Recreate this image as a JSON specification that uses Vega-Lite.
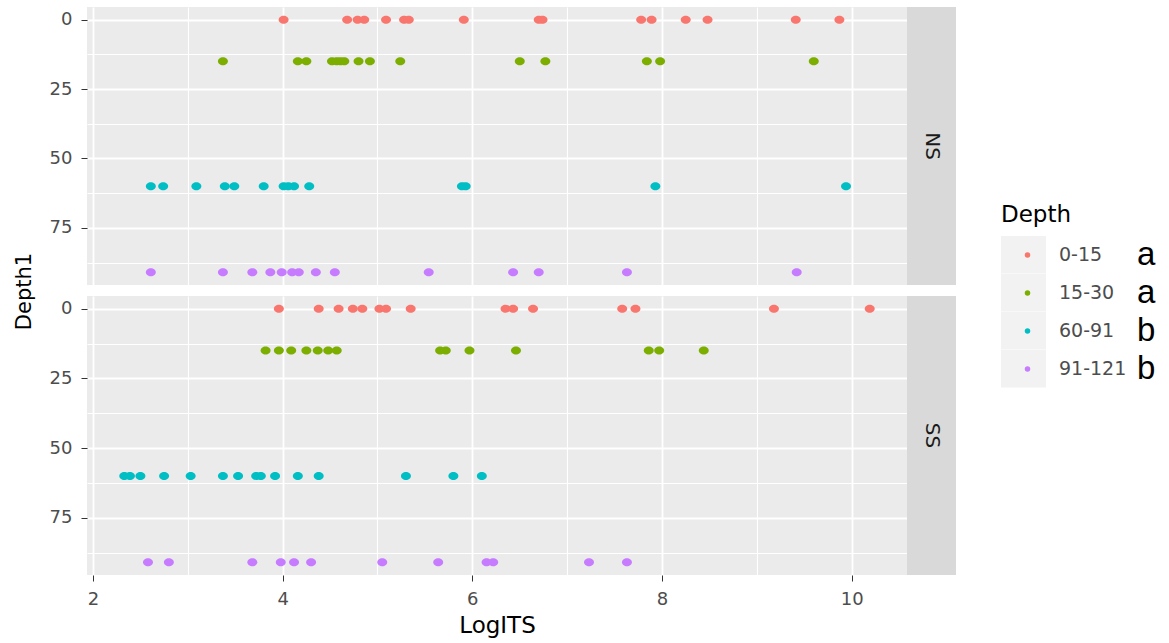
{
  "$schema": "https://vega.github.io/schema/vega-lite/v6.json",
  "background": "white",
  "padding": {"left": 13, "top": 7, "right": 5, "bottom": 5},
  "bounds": "flush",
  "columns": 2,
  "spacing": {"row": 11, "column": 0},
  "config": {
    "font": "DejaVu Sans",
    "view": {"stroke": null},
    "axis": {
      "domain": false,
      "gridColor": "#FFFFFF",
      "tickColor": "#333333",
      "tickSize": 6,
      "labelColor": "#4D4D4D",
      "labelFont": "DejaVu Sans",
      "labelFontSize": 18,
      "titleFont": "DejaVu Sans",
      "titleFontWeight": "normal",
      "titleColor": "#000000"
    },
    "legend": {
      "symbolBaseFillColor": "#F2F2F2",
      "symbolBaseStrokeColor": "transparent"
    }
  },
  "datasets": {
    "its": [
      {"Site": "NS", "Depth": "0-15", "Depth1": 0, "LogITS": 4.01},
      {"Site": "NS", "Depth": "0-15", "Depth1": 0, "LogITS": 4.68},
      {"Site": "NS", "Depth": "0-15", "Depth1": 0, "LogITS": 4.79},
      {"Site": "NS", "Depth": "0-15", "Depth1": 0, "LogITS": 4.86},
      {"Site": "NS", "Depth": "0-15", "Depth1": 0, "LogITS": 5.09},
      {"Site": "NS", "Depth": "0-15", "Depth1": 0, "LogITS": 5.28},
      {"Site": "NS", "Depth": "0-15", "Depth1": 0, "LogITS": 5.33},
      {"Site": "NS", "Depth": "0-15", "Depth1": 0, "LogITS": 5.91},
      {"Site": "NS", "Depth": "0-15", "Depth1": 0, "LogITS": 6.70},
      {"Site": "NS", "Depth": "0-15", "Depth1": 0, "LogITS": 6.74},
      {"Site": "NS", "Depth": "0-15", "Depth1": 0, "LogITS": 7.78},
      {"Site": "NS", "Depth": "0-15", "Depth1": 0, "LogITS": 7.89},
      {"Site": "NS", "Depth": "0-15", "Depth1": 0, "LogITS": 8.25},
      {"Site": "NS", "Depth": "0-15", "Depth1": 0, "LogITS": 8.48},
      {"Site": "NS", "Depth": "0-15", "Depth1": 0, "LogITS": 9.41},
      {"Site": "NS", "Depth": "0-15", "Depth1": 0, "LogITS": 9.87},
      {"Site": "NS", "Depth": "15-30", "Depth1": 15, "LogITS": 3.37},
      {"Site": "NS", "Depth": "15-30", "Depth1": 15, "LogITS": 4.16},
      {"Site": "NS", "Depth": "15-30", "Depth1": 15, "LogITS": 4.25},
      {"Site": "NS", "Depth": "15-30", "Depth1": 15, "LogITS": 4.52},
      {"Site": "NS", "Depth": "15-30", "Depth1": 15, "LogITS": 4.57},
      {"Site": "NS", "Depth": "15-30", "Depth1": 15, "LogITS": 4.61},
      {"Site": "NS", "Depth": "15-30", "Depth1": 15, "LogITS": 4.65},
      {"Site": "NS", "Depth": "15-30", "Depth1": 15, "LogITS": 4.80},
      {"Site": "NS", "Depth": "15-30", "Depth1": 15, "LogITS": 4.92},
      {"Site": "NS", "Depth": "15-30", "Depth1": 15, "LogITS": 5.24},
      {"Site": "NS", "Depth": "15-30", "Depth1": 15, "LogITS": 6.50},
      {"Site": "NS", "Depth": "15-30", "Depth1": 15, "LogITS": 6.77},
      {"Site": "NS", "Depth": "15-30", "Depth1": 15, "LogITS": 7.84},
      {"Site": "NS", "Depth": "15-30", "Depth1": 15, "LogITS": 7.98},
      {"Site": "NS", "Depth": "15-30", "Depth1": 15, "LogITS": 9.60},
      {"Site": "NS", "Depth": "60-91", "Depth1": 60, "LogITS": 2.61},
      {"Site": "NS", "Depth": "60-91", "Depth1": 60, "LogITS": 2.74},
      {"Site": "NS", "Depth": "60-91", "Depth1": 60, "LogITS": 3.09},
      {"Site": "NS", "Depth": "60-91", "Depth1": 60, "LogITS": 3.39},
      {"Site": "NS", "Depth": "60-91", "Depth1": 60, "LogITS": 3.49},
      {"Site": "NS", "Depth": "60-91", "Depth1": 60, "LogITS": 3.80},
      {"Site": "NS", "Depth": "60-91", "Depth1": 60, "LogITS": 4.01},
      {"Site": "NS", "Depth": "60-91", "Depth1": 60, "LogITS": 4.06},
      {"Site": "NS", "Depth": "60-91", "Depth1": 60, "LogITS": 4.12},
      {"Site": "NS", "Depth": "60-91", "Depth1": 60, "LogITS": 4.28},
      {"Site": "NS", "Depth": "60-91", "Depth1": 60, "LogITS": 5.89},
      {"Site": "NS", "Depth": "60-91", "Depth1": 60, "LogITS": 5.93},
      {"Site": "NS", "Depth": "60-91", "Depth1": 60, "LogITS": 7.93},
      {"Site": "NS", "Depth": "60-91", "Depth1": 60, "LogITS": 9.94},
      {"Site": "NS", "Depth": "91-121", "Depth1": 91, "LogITS": 2.61},
      {"Site": "NS", "Depth": "91-121", "Depth1": 91, "LogITS": 3.37},
      {"Site": "NS", "Depth": "91-121", "Depth1": 91, "LogITS": 3.68},
      {"Site": "NS", "Depth": "91-121", "Depth1": 91, "LogITS": 3.87},
      {"Site": "NS", "Depth": "91-121", "Depth1": 91, "LogITS": 3.99},
      {"Site": "NS", "Depth": "91-121", "Depth1": 91, "LogITS": 4.10},
      {"Site": "NS", "Depth": "91-121", "Depth1": 91, "LogITS": 4.17},
      {"Site": "NS", "Depth": "91-121", "Depth1": 91, "LogITS": 4.35},
      {"Site": "NS", "Depth": "91-121", "Depth1": 91, "LogITS": 4.55},
      {"Site": "NS", "Depth": "91-121", "Depth1": 91, "LogITS": 5.54},
      {"Site": "NS", "Depth": "91-121", "Depth1": 91, "LogITS": 6.43},
      {"Site": "NS", "Depth": "91-121", "Depth1": 91, "LogITS": 6.70},
      {"Site": "NS", "Depth": "91-121", "Depth1": 91, "LogITS": 7.63},
      {"Site": "NS", "Depth": "91-121", "Depth1": 91, "LogITS": 9.42},
      {"Site": "SS", "Depth": "0-15", "Depth1": 0, "LogITS": 3.96},
      {"Site": "SS", "Depth": "0-15", "Depth1": 0, "LogITS": 4.38},
      {"Site": "SS", "Depth": "0-15", "Depth1": 0, "LogITS": 4.59},
      {"Site": "SS", "Depth": "0-15", "Depth1": 0, "LogITS": 4.74},
      {"Site": "SS", "Depth": "0-15", "Depth1": 0, "LogITS": 4.84},
      {"Site": "SS", "Depth": "0-15", "Depth1": 0, "LogITS": 5.02},
      {"Site": "SS", "Depth": "0-15", "Depth1": 0, "LogITS": 5.09},
      {"Site": "SS", "Depth": "0-15", "Depth1": 0, "LogITS": 5.35},
      {"Site": "SS", "Depth": "0-15", "Depth1": 0, "LogITS": 6.35},
      {"Site": "SS", "Depth": "0-15", "Depth1": 0, "LogITS": 6.43},
      {"Site": "SS", "Depth": "0-15", "Depth1": 0, "LogITS": 6.64},
      {"Site": "SS", "Depth": "0-15", "Depth1": 0, "LogITS": 7.58},
      {"Site": "SS", "Depth": "0-15", "Depth1": 0, "LogITS": 7.72},
      {"Site": "SS", "Depth": "0-15", "Depth1": 0, "LogITS": 9.18},
      {"Site": "SS", "Depth": "0-15", "Depth1": 0, "LogITS": 10.19},
      {"Site": "SS", "Depth": "15-30", "Depth1": 15, "LogITS": 3.82},
      {"Site": "SS", "Depth": "15-30", "Depth1": 15, "LogITS": 3.96},
      {"Site": "SS", "Depth": "15-30", "Depth1": 15, "LogITS": 4.09},
      {"Site": "SS", "Depth": "15-30", "Depth1": 15, "LogITS": 4.25},
      {"Site": "SS", "Depth": "15-30", "Depth1": 15, "LogITS": 4.37},
      {"Site": "SS", "Depth": "15-30", "Depth1": 15, "LogITS": 4.48},
      {"Site": "SS", "Depth": "15-30", "Depth1": 15, "LogITS": 4.57},
      {"Site": "SS", "Depth": "15-30", "Depth1": 15, "LogITS": 5.66},
      {"Site": "SS", "Depth": "15-30", "Depth1": 15, "LogITS": 5.72},
      {"Site": "SS", "Depth": "15-30", "Depth1": 15, "LogITS": 5.97},
      {"Site": "SS", "Depth": "15-30", "Depth1": 15, "LogITS": 6.46},
      {"Site": "SS", "Depth": "15-30", "Depth1": 15, "LogITS": 7.86},
      {"Site": "SS", "Depth": "15-30", "Depth1": 15, "LogITS": 7.97},
      {"Site": "SS", "Depth": "15-30", "Depth1": 15, "LogITS": 8.44},
      {"Site": "SS", "Depth": "60-91", "Depth1": 60, "LogITS": 2.33},
      {"Site": "SS", "Depth": "60-91", "Depth1": 60, "LogITS": 2.39},
      {"Site": "SS", "Depth": "60-91", "Depth1": 60, "LogITS": 2.50},
      {"Site": "SS", "Depth": "60-91", "Depth1": 60, "LogITS": 2.75},
      {"Site": "SS", "Depth": "60-91", "Depth1": 60, "LogITS": 3.03},
      {"Site": "SS", "Depth": "60-91", "Depth1": 60, "LogITS": 3.37},
      {"Site": "SS", "Depth": "60-91", "Depth1": 60, "LogITS": 3.53},
      {"Site": "SS", "Depth": "60-91", "Depth1": 60, "LogITS": 3.72},
      {"Site": "SS", "Depth": "60-91", "Depth1": 60, "LogITS": 3.77},
      {"Site": "SS", "Depth": "60-91", "Depth1": 60, "LogITS": 3.92},
      {"Site": "SS", "Depth": "60-91", "Depth1": 60, "LogITS": 4.16},
      {"Site": "SS", "Depth": "60-91", "Depth1": 60, "LogITS": 4.38},
      {"Site": "SS", "Depth": "60-91", "Depth1": 60, "LogITS": 5.30},
      {"Site": "SS", "Depth": "60-91", "Depth1": 60, "LogITS": 5.80},
      {"Site": "SS", "Depth": "60-91", "Depth1": 60, "LogITS": 6.10},
      {"Site": "SS", "Depth": "91-121", "Depth1": 91, "LogITS": 2.58},
      {"Site": "SS", "Depth": "91-121", "Depth1": 91, "LogITS": 2.80},
      {"Site": "SS", "Depth": "91-121", "Depth1": 91, "LogITS": 3.68},
      {"Site": "SS", "Depth": "91-121", "Depth1": 91, "LogITS": 3.98},
      {"Site": "SS", "Depth": "91-121", "Depth1": 91, "LogITS": 4.12},
      {"Site": "SS", "Depth": "91-121", "Depth1": 91, "LogITS": 4.30},
      {"Site": "SS", "Depth": "91-121", "Depth1": 91, "LogITS": 5.05},
      {"Site": "SS", "Depth": "91-121", "Depth1": 91, "LogITS": 5.64},
      {"Site": "SS", "Depth": "91-121", "Depth1": 91, "LogITS": 6.15},
      {"Site": "SS", "Depth": "91-121", "Depth1": 91, "LogITS": 6.22},
      {"Site": "SS", "Depth": "91-121", "Depth1": 91, "LogITS": 7.23},
      {"Site": "SS", "Depth": "91-121", "Depth1": 91, "LogITS": 7.63}
    ]
  },
  "concat": [
    {
      "width": 820,
      "height": 278,
      "data": {"name": "its"},
      "transform": [{"filter": "datum.Site === 'NS'"}],
      "view": {"fill": "#EBEBEB", "stroke": null},
      "mark": {"type": "point", "filled": true, "opacity": 1, "size": 100, "strokeWidth": 0},
      "encoding": {
        "x": {
          "field": "LogITS", "type": "quantitative",
          "scale": {"domain": [1.937, 10.583], "nice": false, "zero": false},
          "axis": {
            "values": [2, 3, 4, 5, 6, 7, 8, 9, 10],
            "labels": false, "ticks": false, "title": null,
            "gridWidth": {"condition": {"test": "datum.value % 2 === 0", "value": 1.8}, "value": 1.1}
          }
        },
        "y": {
          "field": "Depth1", "type": "quantitative",
          "scale": {"domain": [-4.55, 95.55], "reverse": true, "nice": false, "zero": false},
          "axis": {
            "values": [0, 12.5, 25, 37.5, 50, 62.5, 75, 87.5],
            "labelExpr": "datum.value % 25 === 0 ? datum.label : ''",
            "tickOpacity": {"condition": {"test": "datum.value % 25 === 0", "value": 1}, "value": 0},
            "gridWidth": {"condition": {"test": "datum.value % 25 === 0", "value": 1.8}, "value": 1.1},
            "labelPadding": 9,
            "title": "Depth1",
            "titleFontSize": 21,
            "titlePadding": 15,
            "titleY": 284
          }
        },
        "color": {
          "field": "Depth", "type": "nominal",
          "scale": {"range": ["#F8766D", "#7CAE00", "#00BFC4", "#C77CFF"]},
          "legend": {
            "title": "Depth", "orient": "none", "legendX": 914, "legendY": 197, "zindex": 2,
            "padding": 0, "titleFontSize": 23, "titleColor": "#000000", "titleFontWeight": "normal",
            "titlePadding": 9, "labelFontSize": 19, "labelColor": "#4D4D4D",
            "symbolType": "circle", "symbolSize": 30, "symbolStrokeWidth": 0, "symbolOffset": 17,
            "labelOffset": 22, "clipHeight": 37.8, "rowPadding": 0
          }
        },
        "shape": {
          "field": "Depth", "type": "nominal",
          "scale": {
            "domain": ["0-15", "15-30", "60-91", "91-121"],
            "range": ["M-1,0A1,0.8,0,1,0,1,0A1,0.8,0,1,0,-1,0Z", "M-1,0A1,0.8,0,1,0,1,0A1,0.8,0,1,0,-1,0Z", "M-1,0A1,0.8,0,1,0,1,0A1,0.8,0,1,0,-1,0Z", "M-1,0A1,0.8,0,1,0,1,0A1,0.8,0,1,0,-1,0Z"]
          },
          "legend": {
            "title": null, "orient": "none", "legendX": 1017, "legendY": 229, "zindex": 1,
            "padding": 0, "symbolSize": 0, "symbolStrokeWidth": 0, "labelOffset": 0,
            "labelFont": "Liberation Sans", "labelFontSize": 33, "labelColor": "#000000",
            "labelExpr": "datum.label === '0-15' || datum.label === '15-30' ? 'a' : 'b'",
            "clipHeight": 37.8, "rowPadding": 0
          }
        },
        "strokeDash": {
          "field": "Depth", "type": "nominal",
          "scale": {
            "domain": {"unionWith": ["0-15", "15-30", "60-91", "91-121"]},
            "range": [[1, 0], [1, 0], [1, 0], [1, 0]]
          },
          "legend": {
            "title": null, "orient": "none", "legendX": 914, "legendY": 229, "zindex": 0,
            "padding": 0, "symbolType": "M-1,-0.84L1,-0.84L1,0.84L-1,0.84Z", "symbolSize": 2025,
            "symbolStrokeWidth": 0, "symbolOffset": 0, "labelExpr": "''",
            "clipHeight": 37.8, "rowPadding": 0
          }
        }
      }
    },
    {
      "width": 49,
      "height": 278,
      "data": {"name": "its"},
      "transform": [
        {"filter": "datum.Site === 'NS'"},
        {"aggregate": [{"op": "count", "as": "n"}], "groupby": ["Site"]}
      ],
      "view": {"fill": "#D9D9D9", "stroke": null},
      "mark": {"type": "text", "angle": 90, "fontSize": 20, "color": "#1A1A1A", "font": "DejaVu Sans", "align": "center", "baseline": "middle"},
      "encoding": {"text": {"field": "Site", "type": "nominal"}}
    },
    {
      "width": 820,
      "height": 279,
      "data": {"name": "its"},
      "transform": [{"filter": "datum.Site === 'SS'"}],
      "view": {"fill": "#EBEBEB", "stroke": null},
      "mark": {"type": "point", "filled": true, "opacity": 1, "size": 100, "strokeWidth": 0},
      "encoding": {
        "x": {
          "field": "LogITS", "type": "quantitative",
          "scale": {"domain": [1.937, 10.583], "nice": false, "zero": false},
          "axis": {
            "values": [2, 3, 4, 5, 6, 7, 8, 9, 10],
            "labelExpr": "datum.value % 2 === 0 ? datum.label : ''",
            "tickOpacity": {"condition": {"test": "datum.value % 2 === 0", "value": 1}, "value": 0},
            "gridWidth": {"condition": {"test": "datum.value % 2 === 0", "value": 1.8}, "value": 1.1},
            "labelPadding": 9,
            "title": "LogITS",
            "titleFontSize": 23,
            "titlePadding": 6
          }
        },
        "y": {
          "field": "Depth1", "type": "quantitative",
          "scale": {"domain": [-4.55, 95.55], "reverse": true, "nice": false, "zero": false},
          "axis": {
            "values": [0, 12.5, 25, 37.5, 50, 62.5, 75, 87.5],
            "labelExpr": "datum.value % 25 === 0 ? datum.label : ''",
            "tickOpacity": {"condition": {"test": "datum.value % 25 === 0", "value": 1}, "value": 0},
            "gridWidth": {"condition": {"test": "datum.value % 25 === 0", "value": 1.8}, "value": 1.1},
            "labelPadding": 9,
            "title": null
          }
        },
        "color": {
          "field": "Depth", "type": "nominal",
          "scale": {"range": ["#F8766D", "#7CAE00", "#00BFC4", "#C77CFF"]}
        },
        "shape": {
          "field": "Depth", "type": "nominal",
          "scale": {
            "domain": ["0-15", "15-30", "60-91", "91-121"],
            "range": ["M-1,0A1,0.8,0,1,0,1,0A1,0.8,0,1,0,-1,0Z", "M-1,0A1,0.8,0,1,0,1,0A1,0.8,0,1,0,-1,0Z", "M-1,0A1,0.8,0,1,0,1,0A1,0.8,0,1,0,-1,0Z", "M-1,0A1,0.8,0,1,0,1,0A1,0.8,0,1,0,-1,0Z"]
          }
        },
        "strokeDash": {
          "field": "Depth", "type": "nominal",
          "scale": {
            "domain": {"unionWith": ["0-15", "15-30", "60-91", "91-121"]},
            "range": [[1, 0], [1, 0], [1, 0], [1, 0]]
          }
        }
      }
    },
    {
      "width": 49,
      "height": 279,
      "data": {"name": "its"},
      "transform": [
        {"filter": "datum.Site === 'SS'"},
        {"aggregate": [{"op": "count", "as": "n"}], "groupby": ["Site"]}
      ],
      "view": {"fill": "#D9D9D9", "stroke": null},
      "mark": {"type": "text", "angle": 90, "fontSize": 20, "color": "#1A1A1A", "font": "DejaVu Sans", "align": "center", "baseline": "middle"},
      "encoding": {"text": {"field": "Site", "type": "nominal"}}
    }
  ]
}
